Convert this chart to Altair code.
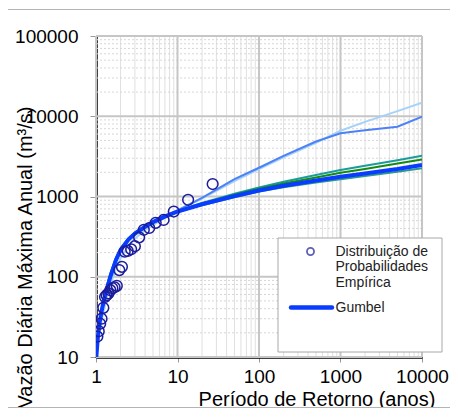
import altair as alt
import pandas as pd

FONT = "Liberation Sans"

# Empirical distribution (return period in years, annual max daily flow m3/s)
T_EMP = [1.04, 1.08, 1.125, 1.17, 1.23, 1.29, 1.35, 1.42, 1.5, 1.59, 1.69, 1.8, 1.93,
         2.08, 2.25, 2.45, 2.7, 3.0, 3.38, 3.86, 4.5, 5.4, 6.75, 9.0, 13.5, 27.0]
Q_EMP = [18, 21, 26, 30, 41, 56, 59, 62, 68, 72, 74, 77, 121,
         133, 205, 210, 220, 240, 310, 385, 405, 470, 510, 650, 910, 1430]

# Fitted distributions
T_FIT = [1.01, 1.05, 1.1, 1.2, 1.3, 1.5, 1.75, 2, 2.5, 3, 4, 5, 7, 10, 20, 50, 100,
         200, 500, 1000, 2000, 5000, 10000]
LIGHT_BLUE = [10, 14, 20, 32, 46, 78, 125, 170, 245, 300, 380, 440, 545, 665, 940, 1560,
              2200, 3080, 4650, 6600, 8500, 11600, 14750]
MID_BLUE = [10, 17, 27, 45, 65, 108, 170, 225, 300, 350, 430, 490, 580, 670, 960, 1650,
            2280, 3210, 4840, 6130, 6690, 7410, 9860]
TEAL_TOP = [10, 18, 28, 46, 66, 110, 170, 225, 300, 355, 430, 490, 570, 660, 830, 1080,
            1300, 1530, 1850, 2140, 2420, 2830, 3220]
GREEN = [10, 17, 27, 44, 63, 105, 165, 220, 295, 350, 425, 485, 565, 655, 815, 1050,
         1250, 1450, 1720, 1980, 2200, 2580, 2900]
TEAL_LOW = [10, 16, 25, 40, 58, 97, 155, 208, 282, 335, 410, 470, 550, 640, 780, 980,
            1150, 1300, 1490, 1640, 1800, 2030, 2245]
GUMBEL = [10, 17, 26, 42, 60, 100, 160, 215, 290, 345, 420, 480, 560, 650, 800, 1010,
          1190, 1360, 1580, 1760, 1940, 2200, 2470]

X_TICKS = [1, 10, 100, 1000, 10000]
Y_TICKS = [10, 100, 1000, 10000, 100000]
X_MINOR = [m * d for d in [1, 10, 100, 1000] for m in range(2, 10)]
Y_MINOR = [m * d for d in [10, 100, 1000, 10000] for m in range(2, 10)]

SERIES = [
    ("Distribuição A", LIGHT_BLUE, "#a6d2f8", 2),
    ("Distribuição B", MID_BLUE, "#4c82f5", 2),
    ("Distribuição C", TEAL_TOP, "#1a9c9c", 2),
    ("Distribuição D", GREEN, "#138a13", 2),
    ("Distribuição E", TEAL_LOW, "#2a9a8c", 2),
    ("Gumbel", GUMBEL, "#0a3cff", 4),
]

xscale = alt.Scale(type="log", domain=[1, 10000], nice=False)
yscale = alt.Scale(type="log", domain=[10, 100000], nice=False)

xaxis = alt.Axis(values=X_TICKS, format="d", grid=False, domainColor="black",
                 domainWidth=2.5, tickColor="#999999", tickSize=5, labelFont=FONT,
                 labelFontSize=19, labelColor="black", labelPadding=5, labelFlush=False,
                 labelOverlap=False, title="Período de Retorno (anos)", titleFont=FONT,
                 titleFontSize=20, titleFontWeight="normal", titleColor="black",
                 titleX=220.5, titleY=48, titleAlign="center", titleBaseline="alphabetic")
yaxis = alt.Axis(values=Y_TICKS, format="d", grid=False, domainColor="black",
                 domainWidth=2.5, tickColor="#999999", tickSize=6, labelFont=FONT,
                 labelFontSize=19, labelColor="black", labelPadding=12, labelFlush=False,
                 labelOverlap=False, title="Vazão Diária Máxima Anual (m³/s)", titleFont=FONT,
                 titleFontSize=20, titleFontWeight="normal", titleColor="black",
                 titleAngle=270, titleX=-65, titleY=372, titleAlign="left",
                 titleBaseline="alphabetic")

X = lambda f: alt.X(f, type="quantitative", scale=xscale, axis=xaxis)
Y = lambda f: alt.Y(f, type="quantitative", scale=yscale, axis=yaxis)

xminor = alt.Chart(pd.DataFrame({"T": X_MINOR})).mark_rule(
    color="#e0e0e0", strokeWidth=1).encode(x=X("T"))
yminor = alt.Chart(pd.DataFrame({"Q": Y_MINOR})).mark_rule(
    color="#d6d6d6", strokeWidth=1, strokeDash=[2, 2]).encode(y=Y("Q"))
xmajor = alt.Chart(pd.DataFrame({"T": X_TICKS})).mark_rule(
    color="#c6c6c6", strokeWidth=2).encode(x=X("T"))
ymajor = alt.Chart(pd.DataFrame({"Q": Y_TICKS})).mark_rule(
    color="#c6c6c6", strokeWidth=2).encode(y=Y("Q"))

layers = [xminor, yminor, xmajor, ymajor]
for name, vals, color, w in SERIES:
    df = pd.DataFrame({"T": T_FIT, "Q": vals, "serie": name})
    layers.append(
        alt.Chart(df).mark_line(color=color, strokeWidth=w, clip=True).encode(
            x=X("T"), y=Y("Q"), order="T:Q"))

emp = alt.Chart(pd.DataFrame({"T": T_EMP, "Q": Q_EMP})).mark_point(
    shape="circle", filled=False, color="#1c1c9c", size=115, strokeWidth=1.5,
    opacity=1, clip=True).encode(x=X("T"), y=Y("Q"))
layers.append(emp)

# Legend box (drawn manually)
leg_box = alt.Chart(pd.DataFrame({"a": [0]})).mark_rect(
    fill="white", stroke="#a8a8a8", strokeWidth=1).encode(
    x=alt.value(182), x2=alt.value(346), y=alt.value(202), y2=alt.value(316))
leg_pt = alt.Chart(pd.DataFrame({"a": [0]})).mark_point(
    shape="circle", filled=False, color="#1c1c9c", size=50, strokeWidth=1.8).encode(
    x=alt.value(214.5), y=alt.value(215.5))
leg_line = alt.Chart(pd.DataFrame({"a": [0]})).mark_rule(
    color="#0a3cff", strokeWidth=4.5, strokeCap="round").encode(
    x=alt.value(195), x2=alt.value(236), y=alt.value(271.5))
leg_texts = []
for txt, yy in [("Distribuição de", 215.5), ("Probabilidades", 231.3),
                ("Empírica", 247), ("Gumbel", 271.5)]:
    leg_texts.append(alt.Chart(pd.DataFrame({"a": [0]})).mark_text(
        text=txt, font=FONT, fontSize=14, color="#222222", align="left",
        baseline="middle").encode(x=alt.value(239.5), y=alt.value(yy)))

frame = alt.Chart(pd.DataFrame({"a": [0]})).mark_rect(
    fill=None, stroke="#b4b4b4", strokeWidth=1).encode(
    x=alt.value(-88.5), x2=alt.value(420), y=alt.value(-26.5), y2=alt.value(371.5))

chart = alt.layer(frame, *layers, leg_box, leg_pt, leg_line, *leg_texts).properties(
    width=326, height=321,
    padding={"left": 88, "top": 28, "right": 28, "bottom": 51},
    autosize=alt.AutoSizeParams(type="none"),
).configure_view(stroke="black", strokeWidth=2).configure(background="white")

chart.save("out.html", embed_options={"renderer": "svg", "actions": False})
